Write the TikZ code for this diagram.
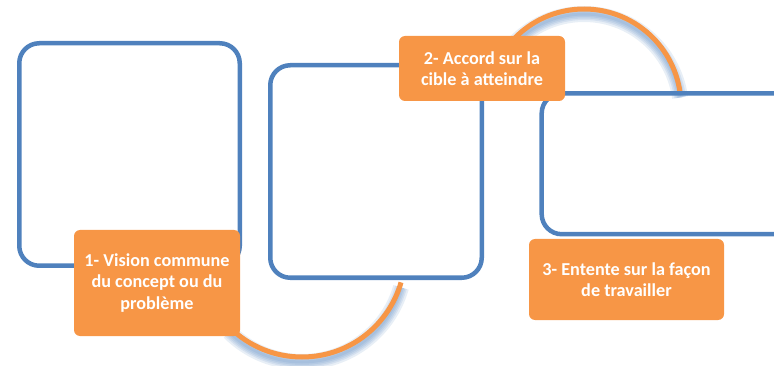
\documentclass[tikz,border=0pt]{standalone}
\usepackage{fontspec}
\setmainfont{Carlito}
\usetikzlibrary{positioning}
\definecolor{panelblue}{RGB}{79,129,189}
\definecolor{tagorange}{RGB}{247,150,70}

\begin{document}
\begin{tikzpicture}[x=1pt,y=-1pt,
    panel/.style={draw=panelblue, line width=4.5pt, rounded corners=20pt, inner sep=0pt},
    tagbox/.style={fill=tagorange, rounded corners=6pt, text=white, inner sep=0pt, align=center,
        font=\fontsize{18.2}{21.3}\selectfont\bfseries},
    orangearc/.style={draw=tagorange, line width=5pt},
    glowarc/.style={draw=panelblue, line width=#1, opacity=0.13}]
    \clip (0,0) rectangle (774,366);
    \coordinate (low) at (302,254);
    \coordinate (high) at (584,106);

    \foreach \w in {16,12,9,6,3} {
        \draw [glowarc=\w pt] ([yshift=-5pt]low) ++(135:103) arc [start angle=135, end angle=16, radius=103];
        \draw [glowarc=\w pt] ([yshift=-5pt]high) ++(-140:97) arc [start angle=-140, end angle=-8, radius=97];
    }
    \draw [orangearc] (low) ++(135:103) arc [start angle=135, end angle=16, radius=103];
    \draw [orangearc] (high) ++(-140:97) arc [start angle=-140, end angle=-8, radius=97];

    \node [panel, minimum width=220.5pt, minimum height=222.5pt] (vision) at (129.5,154.5) {};
    \node [panel, minimum width=211.5pt, minimum height=212.5pt] (target) at (376,171.5) {};
    \node [panel, minimum width=278.3pt, minimum height=140.9pt] (method) at (680.85,163.75) {};

    \node [tagbox, minimum width=166pt, minimum height=106pt] (step1) at (157,283)
        {1- Vision commune\\du concept ou du\\problème};
    \node [tagbox, minimum width=166pt, minimum height=65pt] (step2) at (482,68.5)
        {2- Accord sur la\\cible à atteindre};
    \node [tagbox, minimum width=195pt, minimum height=81pt] (step3) at (626.5,279.5)
        {3- Entente sur la façon\\de travailler};
\end{tikzpicture}
\end{document}
